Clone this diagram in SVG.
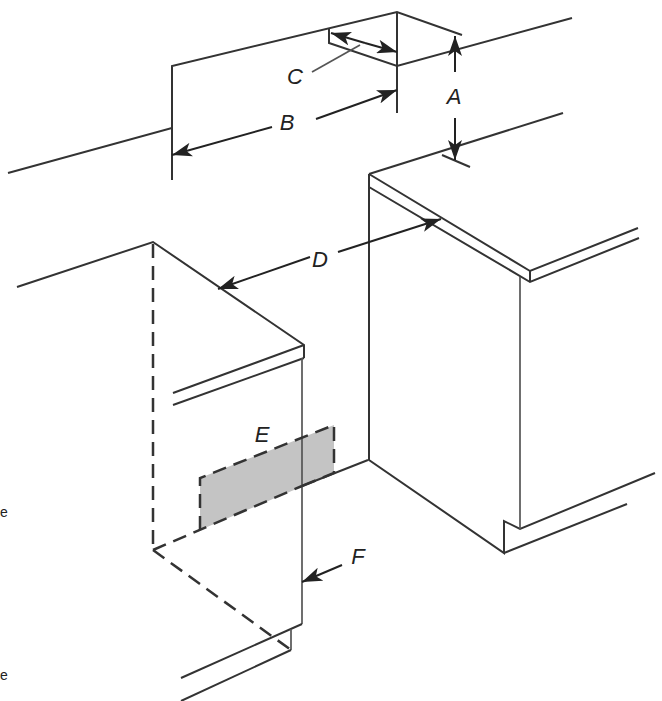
<svg xmlns="http://www.w3.org/2000/svg" width="662" height="701" viewBox="0 0 662 701">
<style>
.l{fill:none;stroke:#333;stroke-width:2}
.t{fill:none;stroke:#555;stroke-width:1.7}
.d{fill:none;stroke:#333;stroke-width:2.5;stroke-dasharray:14 8}
.a{fill:none;stroke:#222;stroke-width:2;marker-end:url(#h)}
.c{font-family:"Liberation Sans",Arial,sans-serif;font-size:22px;font-style:italic;fill:#222;text-anchor:middle}
.p{font-family:"Liberation Sans",Arial,sans-serif;font-size:14px;fill:#222}
</style>
<defs>
<marker id="h" markerUnits="userSpaceOnUse" markerWidth="22" markerHeight="14" refX="20" refY="7" orient="auto">
<path d="M0 0L20 7L0 14L5 7Z" fill="#222"/>
</marker>
</defs>
<rect width="662" height="701" fill="#fff"/>
<g id="shaded-panel"><path d="M200 478L334 425V473L200 530Z" fill="#c4c4c4"/></g>
<g id="top-wall">
<path class="l" d="M8 173L172 128V66L397 12L462 35"/>
<path class="l" d="M172 128V180"/>
<path class="l" d="M397 12V113"/>
<path class="l" d="M329 28V43L397 66L572 18"/>
</g>
<g id="right-unit">
<path class="l" d="M369 174L563 113"/>
<path class="l" d="M369 174V460L504 553V521L520 529L655 473"/>
<path class="l" d="M369 174L530 271L638 228"/>
<path class="l" d="M369 187L530 282L639 238"/>
<path class="l" d="M530 271V282"/>
<path class="t" d="M520 277V529"/>
<path class="l" d="M504 553L627 504"/>
<path class="l" d="M442 155L470 167"/>
</g>
<g id="left-unit">
<path class="l" d="M17 287L153 242L304 345V358"/>
<path class="l" d="M173 393L304 345"/>
<path class="l" d="M173 405L304 358"/>
<path class="t" d="M302 358V624"/>
<path class="l" d="M181 678L302 624"/>
<path class="t" d="M291 629V650"/>
<path class="l" d="M181 701L291 650"/>
<path class="l" d="M302 486L368 460"/>
<path class="d" d="M153 244V550"/>
<path class="d" d="M153 550L302 486"/>
<path class="d" d="M153 550L291 650"/>
<path class="d" d="M200 530V478L334 425V473L302 486"/>
</g>
<g id="connectors">
<path class="a" d="M455 72V36"/>
<path class="a" d="M455 118V160"/>
<path class="a" d="M272 127L172 155"/>
<path class="a" d="M316 119L397 90"/>
<path class="a" d="M365 43L331 33"/>
<path class="a" d="M365 43L397 52"/>
<path class="t" d="M312 72L360 45"/>
<path class="a" d="M310 257L218 289"/>
<path class="a" d="M338 252L441 219"/>
<path class="a" d="M342 565L302 582"/>
</g>
<g id="labels">
<text class="c" x="295" y="84">C</text>
<text class="c" x="454" y="104">A</text>
<text class="c" x="287" y="130">B</text>
<text class="c" x="320" y="267">D</text>
<text class="c" x="262" y="442">E</text>
<text class="c" x="358" y="564">F</text>
<text class="p" x="0" y="517">e</text>
<text class="p" x="0" y="680">e</text>
</g>
</svg>
